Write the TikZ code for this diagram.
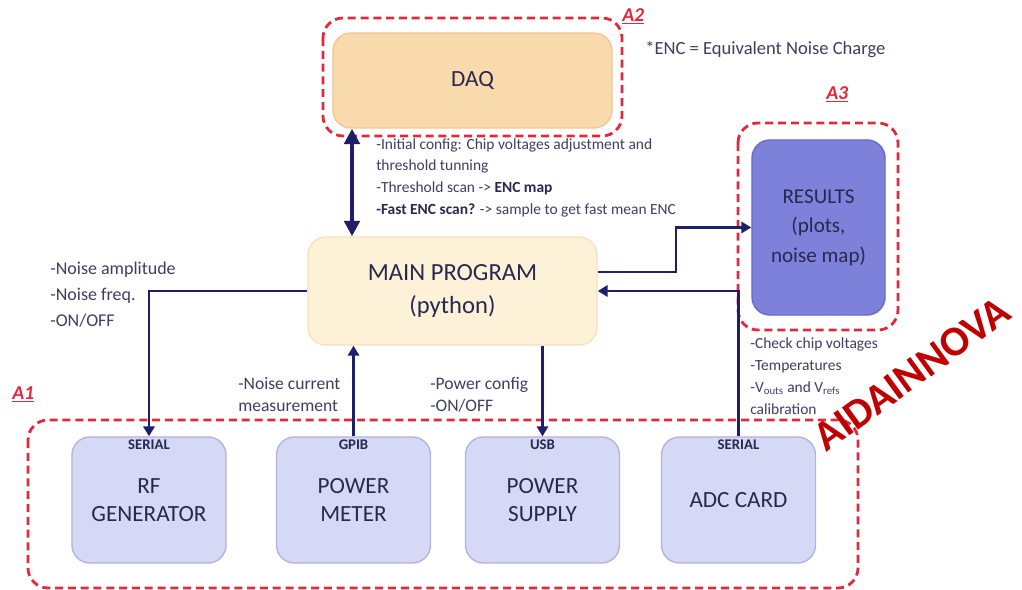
\documentclass[tikz,border=0pt]{standalone}
\usepackage{fontspec}
\setmainfont{Carlito}
\usetikzlibrary{arrows.meta,positioning}
\definecolor{navyline}{RGB}{30,30,105}
\definecolor{notetext}{RGB}{62,62,95}
\definecolor{boxtext}{RGB}{40,40,80}
\definecolor{daqfill}{RGB}{248,218,172}
\definecolor{daqdraw}{RGB}{238,200,150}
\definecolor{mainfill}{RGB}{253,242,216}
\definecolor{maindraw}{RGB}{244,226,188}
\definecolor{resfill}{RGB}{126,129,218}
\definecolor{resdraw}{RGB}{104,106,200}
\definecolor{devfill}{RGB}{214,217,245}
\definecolor{devdraw}{RGB}{178,180,222}
\definecolor{dashred}{RGB}{226,40,60}
\definecolor{markred}{RGB}{192,0,0}
\tikzset{
  block/.style={rounded corners=0.45cm, line width=1pt, align=center, text=boxtext,
    font=\fontsize{16.5}{20}\selectfont},
  device/.style={block, fill=devfill, draw=devdraw, minimum width=3.85cm, minimum height=3.15cm},
  iface/.style={font=\bfseries\fontsize{10.5}{11}\selectfont, text=boxtext, inner sep=1pt},
  area/.style={draw=dashred, line width=2pt, dash pattern=on 0.2cm off 0.12cm, rounded corners=0.5cm},
  arealabel/.style={text=dashred, font=\bfseries\itshape\fontsize{14}{14}\selectfont, inner sep=0pt, anchor=north west},
  note/.style={text=notetext, align=left, inner sep=0pt, anchor=north west,
    font=\fontsize{12.5}{16}\selectfont},
  link/.style={draw=navyline, line width=1.6pt, -{Triangle[width=8pt,length=7pt]}},
  biglink/.style={draw=navyline, line width=3pt, {Triangle[width=11pt,length=11pt]}-{Triangle[width=11pt,length=11pt]}}
}
\begin{document}
\begin{tikzpicture}[x=0.025cm,y=-0.025cm]
    \useasboundingbox (0,0) rectangle (1022,590);
    % main blocks
    \node[block, fill=daqfill, draw=daqdraw, minimum width=6.975cm, minimum height=2.375cm] (daq) at (472.5,80.5) {DAQ};
    \node[block, fill=mainfill, draw=maindraw, minimum width=7.225cm, minimum height=2.7cm,
      font=\fontsize{17.5}{23}\selectfont] (main) at (452.5,291) {MAIN PROGRAM\\(python)};
    \node[block, fill=resfill, draw=resdraw, minimum width=3.325cm, minimum height=4.375cm,
      font=\fontsize{15}{21}\selectfont] (results) at (818.5,227.5) {RESULTS\\(plots,\\noise map)};
    % devices
    \node[device] (rfgen) at (149,500) {RF\\GENERATOR};
    \node[device] (pmeter) at (353.5,500) {POWER\\METER};
    \node[device] (psupply) at (542.5,500) {POWER\\SUPPLY};
    \node[device] (adc) at (738.5,500) {ADC CARD};
    \node[iface, below=1pt of rfgen.north] {SERIAL};
    \node[iface, below=1pt of pmeter.north] {GPIB};
    \node[iface, below=1pt of psupply.north] {USB};
    \node[iface, below=1pt of adc.north] {SERIAL};
    % dashed areas
    \draw[area] (28,420) rectangle (858,588);
    \draw[area] (323,18) rectangle (622,136);
    \draw[area] (738,123) rectangle (898,330);
    \node[arealabel] at (12,386) {\underline{A1}};
    \node[arealabel] at (622,8) {\underline{A2}};
    \node[arealabel] at (826,86) {\underline{A3}};
    % connectors
    \draw[biglink] (daq.south -| 352,0) -- (main.north -| 352,0);
    \draw[link] ([yshift=0.475cm]main.east) -- ++(78,0) |- (results.west);
    \draw[link] (adc.north) |- (main.east);
    \draw[link] (main.west) -| (rfgen.north);
    \draw[link] (pmeter.north) -- (pmeter.north |- main.south);
    \draw[link] (main.south -| psupply.north) -- (psupply.north);
    % notes
    \node[note, font=\fontsize{13.2}{16}\selectfont] at (645,41) {*ENC = Equivalent Noise Charge};
    \node[note, font=\fontsize{11}{15.6}\selectfont] at (376,138) {-Initial config: Chip voltages adjustment and\\threshold tunning\\-Threshold scan -> \textbf{\color{boxtext}ENC map}\\\textbf{\color{boxtext}-Fast ENC scan?} -> sample to get fast mean ENC};
    \node[note, font=\fontsize{12.8}{18.5}\selectfont] at (50,262) {-Noise amplitude\\-Noise freq.\\-ON/OFF};
    \node[note] at (238,377) {-Noise current\\measurement};
    \node[note] at (430,377) {-Power config\\-ON/OFF};
    \node[note, font=\fontsize{11}{15.8}\selectfont] at (750,337) {-Check chip voltages\\-Temperatures\\-V\textsubscript{outs} and V\textsubscript{refs}\\calibration};
    % watermark
    \node[text=markred, rotate=36, font=\bfseries\fontsize{30}{30}\selectfont] at (912,374) {AIDAINNOVA};
\end{tikzpicture}
\end{document}
